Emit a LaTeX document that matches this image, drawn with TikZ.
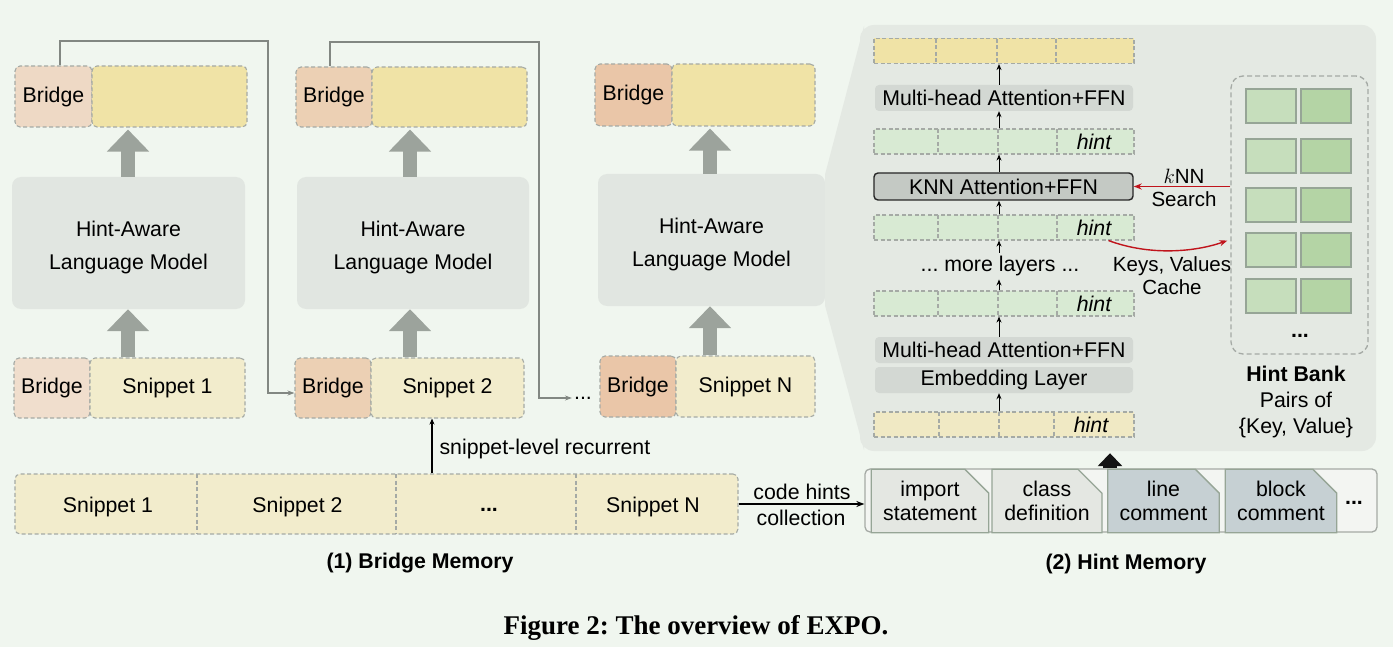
\documentclass[tikz,border=0pt]{standalone}
\usepackage{fontspec}
\setmainfont{Liberation Sans}
\newfontfamily\capfont{Liberation Serif}
\usetikzlibrary{arrows.meta,shapes.misc,calc}
\frenchspacing

\definecolor{bg}{RGB}{240,246,239}
\definecolor{dashg}{RGB}{165,170,165}
\definecolor{br1}{RGB}{238,217,197}
\definecolor{br1b}{RGB}{240,222,205}
\definecolor{br2}{RGB}{236,208,180}
\definecolor{br3}{RGB}{234,198,168}
\definecolor{ytop}{RGB}{240,227,166}
\definecolor{snip}{RGB}{242,236,204}
\definecolor{halm}{RGB}{225,230,225}
\definecolor{garrow}{RGB}{156,163,156}
\definecolor{panel}{RGB}{228,233,227}
\definecolor{mha}{RGB}{211,216,211}
\definecolor{knnc}{RGB}{196,201,196}
\definecolor{hintg}{RGB}{216,234,211}
\definecolor{hinty}{RGB}{240,233,196}
\definecolor{cardl}{RGB}{198,222,188}
\definecolor{cardr}{RGB}{180,212,165}
\definecolor{cardb}{RGB}{150,165,150}
\definecolor{hmfill}{RGB}{243,245,242}
\definecolor{hcard}{RGB}{228,231,226}
\definecolor{hcardb}{RGB}{198,208,211}
\definecolor{kred}{RGB}{192,20,28}
\definecolor{connc}{RGB}{130,135,130}

\tikzset{
  f/.style={font=\fontsize{21.3}{25}\selectfont},
  dbox/.style={draw=dashg, dash pattern=on 4pt off 2.5pt, line width=1.1pt, rounded corners=5pt, inner sep=0pt, f},
  halmbox/.style={fill=halm, rounded corners=9pt, inner sep=0pt},
  halmtxt/.style={label={[yshift=-4pt, align=center, font=\fontsize{21.3}{33}\selectfont]center:Hint-Aware\\Language Model}},
  bigup/.style={draw=garrow, line width=14pt, -{Triangle[width=41pt,length=22pt]}},
  conn/.style={draw=connc, line width=1.3pt, -{Stealth[length=7pt,width=5pt]}},
  hrow/.style={draw=dashg, dash pattern=on 4pt off 2.5pt, line width=1.1pt, minimum width=260pt, minimum height=25pt, inner sep=0pt},
  divl/.style={draw=dashg, dash pattern=on 4pt off 2.5pt, line width=1.1pt},
  layer/.style={fill=mha, rounded corners=4pt, minimum width=258pt, minimum height=26pt, inner sep=0pt, f},
  upar/.style={draw=black, line width=1pt, -{Stealth[length=6pt,width=5pt]}},
  hinttxt/.style={font=\fontsize{21.3}{25}\selectfont\itshape},
  cardL/.style={chamfered rectangle, chamfered rectangle corners=north east, chamfered rectangle xsep=4pt, chamfered rectangle ysep=4pt, draw=cardb, line width=1.2pt, fill=cardl, minimum width=50pt, minimum height=34pt, inner sep=0pt},
  cardR/.style={rectangle, draw=cardb, line width=1.2pt, fill=cardr, minimum width=50pt, minimum height=34pt, inner sep=0pt},
  hcardst/.style={chamfered rectangle, chamfered rectangle corners=north east, chamfered rectangle xsep=12pt, chamfered rectangle ysep=12pt, draw=cardb, line width=1.3pt, minimum width=110pt, minimum height=52pt, inner sep=0pt, align=center, font=\fontsize{21.3}{24}\selectfont},
}

\begin{document}
\begin{tikzpicture}[x=1pt,y=-1pt]
\useasboundingbox (0,0) rectangle (1393,647);
\fill[bg] (0,0) rectangle (1393,647);

% ---------- column 1 ----------
\node[dbox, fill=br1, minimum width=77pt, minimum height=61pt] (b1t) at (53.5,96.5) {Bridge};
\node[dbox, fill=ytop, minimum width=155pt, minimum height=61pt] (y1t) at (169.5,96.5) {};
\node[halmbox, halmtxt, minimum width=233pt, minimum height=132pt] (h1) at (128.5,243) {};
\node[dbox, fill=br1b, minimum width=76pt, minimum height=60pt] (b1b) at (52,388) {Bridge};
\node[dbox, fill=snip, minimum width=155pt, minimum height=60pt] (s1) at (167.5,388) {Snippet 1};
\coordinate (a1) at (128,0);
\draw[bigup, shorten >=2pt] (h1.north -| a1) -- (y1t.south -| a1);
\draw[bigup] (s1.north -| a1) -- (h1.south -| a1);

% ---------- column 2 ----------
\node[dbox, fill=br2, minimum width=76pt, minimum height=60pt] (b2t) at (334,97) {Bridge};
\node[dbox, fill=ytop, minimum width=155pt, minimum height=60pt] (y2t) at (449.5,97) {};
\node[halmbox, halmtxt, minimum width=232pt, minimum height=132pt] (h2) at (413,243) {};
\node[dbox, fill=br2, minimum width=76pt, minimum height=60pt] (b2b) at (333,388) {Bridge};
\node[dbox, fill=snip, minimum width=153pt, minimum height=60pt] (s2) at (447.5,388) {Snippet 2};
\coordinate (a2) at (410,0);
\draw[bigup, shorten >=2pt] (h2.north -| a2) -- (y2t.south -| a2);
\draw[bigup] (s2.north -| a2) -- (h2.south -| a2);

% ---------- column 3 ----------
\node[dbox, fill=br3, minimum width=77pt, minimum height=62pt] (b3t) at (633.5,95) {Bridge};
\node[dbox, fill=ytop, minimum width=143pt, minimum height=62pt] (y3t) at (743.5,95) {};
\node[dbox, fill=br3, minimum width=76pt, minimum height=61pt] (b3b) at (638,386.5) {Bridge};
\node[dbox, fill=snip, minimum width=139pt, minimum height=61pt] (s3) at (745.5,386.5) {Snippet N};
\node[f, inner sep=2pt] (dots) at (583,398) {...};

% ---------- right panel ----------
\node[fill=panel, rounded corners=14pt, minimum width=516pt, minimum height=426pt, inner sep=0pt] (panel) at (1118,238) {};
\node[halmbox, halmtxt, minimum width=227pt, minimum height=132pt] (h3) at (711.5,240) {};
\fill[panel] (h3.north east) -- (864,26) -- (864,450) -- (h3.south east) -- cycle;
\coordinate (a3) at (710,0);
\draw[bigup, shorten >=2pt] (h3.north -| a3) -- (y3t.south -| a3);
\draw[bigup] (s3.north -| a3) -- (h3.south -| a3);

% connectors between columns
\draw[conn] ([xshift=6.5pt]b1t.north) |- (268,41) |- ([yshift=-5pt]b2b.west);
\draw[conn] ([xshift=-4pt]b2t.north) |- (539,42) |- (dots.west);

% ---------- bottom bar ----------
\node[dbox, fill=snip, minimum width=723pt, minimum height=60pt] (bar) at (376.5,504) {};
\draw[divl] (197,474) -- (197,534);
\draw[divl] (396,474) -- (396,534);
\draw[divl] (576,474) -- (576,534);
\node[f] (t1) at (108,507) {Snippet 1};
\node[f] (t2) at (297.5,507) {Snippet 2};
\node[f] (t3) at (489,510) {\textbf{...}};
\node[f] (t4) at (653,507) {Snippet N};
\coordinate (rx) at (432,0);
\draw[upar, line width=1.3pt] (bar.north -| rx) -- (s2.south -| rx);
\node[f, anchor=west] (slr) at (436,449) {snippet-level recurrent};

% ---------- hint memory ----------
\node[fill=hmfill, draw=dashg, line width=1.3pt, rounded corners=5pt, minimum width=512pt, minimum height=63pt, inner sep=0pt] (hm) at (1121,500.5) {};
\node[hcardst, fill=hcard] (ci) at (930,501) {import\\statement};
\node[hcardst, fill=hcard] (cc) at (1047,501) {class\\definition};
\node[hcardst, fill=hcardb, minimum width=109pt] (cl) at (1163.5,501) {line\\comment};
\node[hcardst, fill=hcardb] (cb) at (1281,501) {block\\comment};
\node[f] (hmdots) at (1354,503) {\textbf{...}};
\draw[-{Stealth[length=8pt,width=6pt]}, line width=1.5pt] (bar.east) -- (bar.east -| hm.west);
\node[f] (ch) at (802,492) {code hints};
\node[f] (co) at (801,518) {collection};
\coordinate (bx) at (1110,0);
\draw[draw=black!92, line width=14pt, -{Triangle[width=24pt,length=13pt]}, shorten >=2pt] (hm.north -| bx) -- (panel.south -| bx);

% ---------- transformer stack ----------
\node[hrow, fill=ytop] (r0) at (1004,51) {};
\foreach \x in {936,997,1056} \draw[divl] (\x,39) -- (\x,63);
\node[layer] (m1) at (1004,98) {Multi-head Attention+FFN};
\node[hrow, fill=hintg] (r1) at (1004,141.5) {};
\foreach \x in {938,998,1057} \draw[divl] (\x,129) -- (\x,154);
\node[hinttxt] (h1t) at (1094,142) {hint};
\node[layer, fill=knnc, draw=black!85, line width=1.4pt, minimum width=259pt, minimum height=27pt] (knn) at (1003.5,186.5) {KNN Attention+FFN};
\node[hrow, fill=hintg] (r2) at (1004,227.5) {};
\foreach \x in {938,998,1057} \draw[divl] (\x,215) -- (\x,240);
\node[hinttxt] (h2t) at (1094,228) {hint};
\node[f] (more) at (1000,266) {... more layers ...};
\node[hrow, fill=hintg] (r3) at (1004,303.5) {};
\foreach \x in {938,998,1057} \draw[divl] (\x,291) -- (\x,316);
\node[hinttxt] (h3t) at (1094,304) {hint};
\node[layer] (m2) at (1004,350) {Multi-head Attention+FFN};
\node[layer] (emb) at (1004,380) {Embedding Layer};
\node[hrow, fill=hinty] (r4) at (1004,424.5) {};
\foreach \x in {939,999,1054} \draw[divl] (\x,412) -- (\x,437);
\node[hinttxt] (h4t) at (1091,425) {hint};

\coordinate (ax) at (999,0);
\draw[upar] (m1.north -| ax) -- (r0.south -| ax);
\draw[upar] (r1.north -| ax) -- (m1.south -| ax);
\draw[upar] (knn.north -| ax) -- (r1.south -| ax);
\draw[upar] (r2.north -| ax) -- (knn.south -| ax);
\draw[upar] (more.north -| ax) -- (r2.south -| ax);
\draw[upar] (r3.north -| ax) -- (more.south -| ax);
\draw[upar] (m2.north -| ax) -- (r3.south -| ax);
\draw[upar] (r4.north -| ax) -- (emb.south -| ax);

% ---------- hint bank ----------
\node[draw=dashg, dash pattern=on 5pt off 3pt, line width=1.3pt, rounded corners=12pt, minimum width=137pt, minimum height=278pt, inner sep=0pt] (hb) at (1299.5,215) {};
\foreach \y [count=\i] in {106,156,205,250,296} {
  \node[cardL] (cl\i) at (1271,\y) {};
  \node[cardR] (cr\i) at (1326,\y) {};
}
\node[f] (hbdots) at (1300,336) {\textbf{...}};
\node[align=center, font=\fontsize{21.3}{26}\selectfont] (hbt) at (1296,402) {\textbf{Hint Bank}\\Pairs of\\\{Key, Value\}};

% red connections
\draw[draw=kred, line width=1.4pt, -{Stealth[length=8pt,width=6pt]}] (hb.west |- knn.east) -- (knn.east);
\node[align=center, font=\fontsize{20.5}{23}\selectfont] (ks) at (1184,188) {$k$NN\\Search};
\draw[draw=kred, line width=1.4pt, -{Stealth[length=8pt,width=6pt]}] ([xshift=-26pt]r2.south east) .. controls (1150,256) and (1195,252) .. ([xshift=-3pt]hb.west |- r2.south);
\node[align=center, font=\fontsize{20.5}{23}\selectfont] (kv) at (1172,276) {Keys, Values\\Cache};

% ---------- titles ----------
\node[font=\fontsize{21.3}{25}\selectfont\bfseries] (t1m) at (420,563) {(1) Bridge Memory};
\node[font=\fontsize{21.3}{25}\selectfont\bfseries] (t2m) at (1126,564) {(2) Hint Memory};
\node[font=\capfont\bfseries\fontsize{27}{30}\selectfont] (cap) at (696,628) {Figure 2: The overview of EXPO.};
\end{tikzpicture}
\end{document}
